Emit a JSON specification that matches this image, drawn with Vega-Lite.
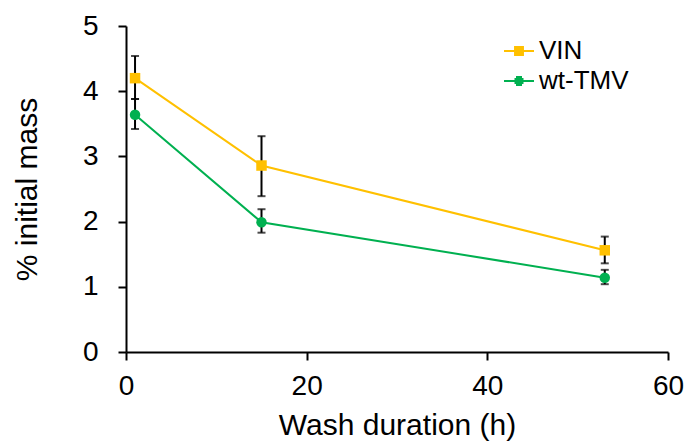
{
  "$schema": "https://vega.github.io/schema/vega-lite/v6.json",
  "width": 542,
  "height": 326,
  "autosize": "none",
  "padding": {"left": 126, "top": 26, "right": 20, "bottom": 94},
  "background": "white",
  "config": {
    "view": {"stroke": null},
    "font": "Liberation Sans",
    "axis": {
      "grid": false,
      "domainColor": "black",
      "domainWidth": 2,
      "tickColor": "black",
      "tickWidth": 2,
      "tickSize": 8,
      "labelFlush": false,
      "labelFont": "Liberation Sans",
      "labelFontSize": 28,
      "labelColor": "black",
      "titleFont": "Liberation Sans",
      "titleFontSize": 30,
      "titleFontWeight": "normal",
      "titleColor": "black"
    }
  },
  "data": {
    "values": [
      {"series": "VIN", "x": 1, "y": 4.20, "lo": 3.88, "hi": 4.54},
      {"series": "VIN", "x": 15, "y": 2.86, "lo": 2.39, "hi": 3.31},
      {"series": "VIN", "x": 53, "y": 1.56, "lo": 1.36, "hi": 1.77},
      {"series": "wt-TMV", "x": 1, "y": 3.64, "lo": 3.42, "hi": 3.88},
      {"series": "wt-TMV", "x": 15, "y": 1.99, "lo": 1.83, "hi": 2.19},
      {"series": "wt-TMV", "x": 53, "y": 1.14, "lo": 1.04, "hi": 1.26}
    ]
  },
  "encoding": {
    "x": {
      "field": "x", "type": "quantitative",
      "scale": {"domain": [0, 60], "nice": false},
      "axis": {"values": [0, 20, 40, 60], "format": "d", "title": "Wash duration (h)", "labelPadding": 12, "titlePadding": 10}
    }
  },
  "layer": [
    {
      "mark": {"type": "line", "strokeWidth": 2},
      "encoding": {
        "y": {
          "field": "y", "type": "quantitative",
          "scale": {"domain": [0, 5], "nice": false},
          "axis": {"values": [0, 1, 2, 3, 4, 5], "format": "d", "title": "% initial mass", "labelPadding": 20, "titlePadding": 40}
        },
        "color": {
          "field": "series", "type": "nominal",
          "scale": {"domain": ["VIN", "wt-TMV"], "range": ["#FFC000", "#00B050"]},
          "legend": {
            "orient": "none",
            "legendX": 377,
            "legendY": 9,
            "title": null,
            "padding": 0,
            "labelFont": "Liberation Sans",
            "labelFontSize": 26,
            "labelColor": "black",
            "labelOffset": 4,
            "rowPadding": 1,
            "symbolSize": 900,
            "symbolStrokeWidth": 2,
            "symbolType": {"expr": "datum.value == 'VIN' ? 'M-1,0H1M-0.33,-0.27H0.33M-0.33,-0.13H0.33M-0.33,0H0.33M-0.33,0.13H0.33M-0.33,0.27H0.33' : 'M-1,0H1M-0.2,-0.27H0.2M-0.3,-0.13H0.3M-0.35,0H0.35M-0.3,0.13H0.3M-0.2,0.27H0.2'"}
          }
        }
      }
    },
    {
      "mark": {"type": "rule", "color": "black", "strokeWidth": 2},
      "encoding": {
        "y": {"field": "lo", "type": "quantitative"},
        "y2": {"field": "hi"}
      }
    },
    {
      "mark": {"type": "tick", "orient": "horizontal", "color": "black", "thickness": 2, "size": 8},
      "encoding": {"y": {"field": "lo", "type": "quantitative"}}
    },
    {
      "mark": {"type": "tick", "orient": "horizontal", "color": "black", "thickness": 2, "size": 8},
      "encoding": {"y": {"field": "hi", "type": "quantitative"}}
    },
    {
      "transform": [{"filter": "datum.series == 'VIN'"}],
      "mark": {"type": "point", "filled": true, "opacity": 1, "size": 110, "shape": "square", "color": "#FFC000"},
      "encoding": {"y": {"field": "y", "type": "quantitative"}}
    },
    {
      "transform": [{"filter": "datum.series == 'wt-TMV'"}],
      "mark": {"type": "point", "filled": true, "opacity": 1, "size": 110, "shape": "circle", "color": "#00B050"},
      "encoding": {"y": {"field": "y", "type": "quantitative"}}
    }
  ]
}
